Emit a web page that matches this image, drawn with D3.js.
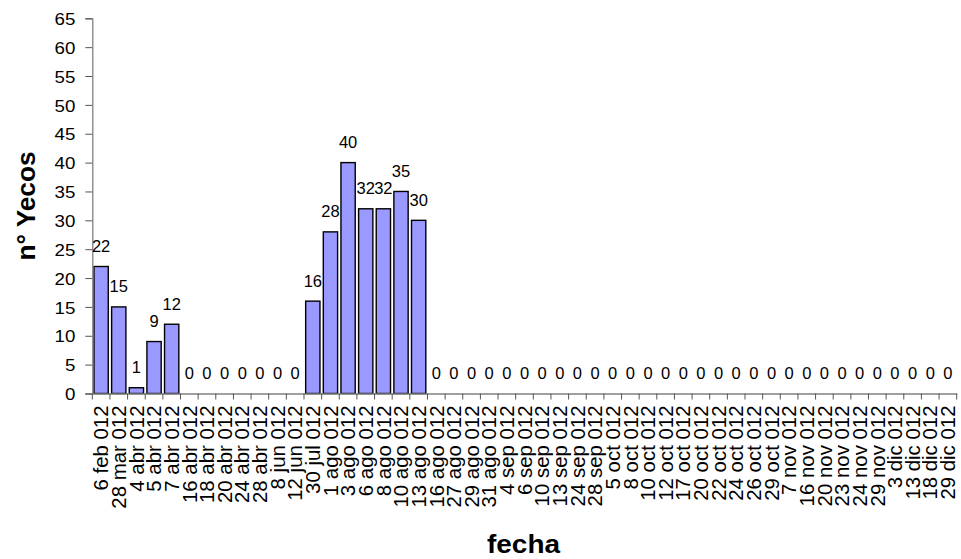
<!DOCTYPE html>
<html><head><meta charset="utf-8">
<script src="https://cdn.jsdelivr.net/npm/d3@7"></script>
<style>body{margin:0;background:#fff}svg{display:block}text{font-family:"Liberation Sans",Arial,sans-serif;fill:#000}</style>
</head><body>
<script>
const categories = ["6 feb 012","28 mar 012","4 abr 012","5 abr 012","7 abr 012","16 abr 012","18 abr 012","20 abr 012","24 abr 012","28 abr 012","8 jun 012","12 jun 012","30 jul 012","1 ago 012","3 ago 012","6 ago 012","8 ago 012","10 ago 012","13 ago 012","16 ago 012","27 ago 012","29 ago 012","31 ago 012","4 sep 012","6 sep 012","10 sep 012","13 sep 012","24 sep 012","28 sep 012","5 oct 012","8 oct 012","10 oct 012","12 oct 012","17 oct 012","20 oct 012","22 oct 012","24 oct 012","26 oct 012","29 oct 012","7 nov 012","16 nov 012","20 nov 012","23 nov 012","24 nov 012","29 nov 012","3 dic 012","13 dic 012","18 dic 012","29 dic 012"];
const values = [22,15,1,9,12,0,0,0,0,0,0,0,16,28,40,32,32,35,30,0,0,0,0,0,0,0,0,0,0,0,0,0,0,0,0,0,0,0,0,0,0,0,0,0,0,0,0,0,0];
const yTicks = [0,5,10,15,20,25,30,35,40,45,50,55,60,65];
const yTitle = "n° Yecos";
const xTitle = "fecha";

const W = 961, H = 559;
const mLeft = 92.3, mRight = 956.7, mTop = 18.3, mBottom = 393.5;
const svg = d3.select("body").append("svg").attr("width", W).attr("height", H);

const x = d3.scaleBand().domain(categories).range([mLeft, mRight]).padding(0);
const y = d3.scaleLinear().domain([0, 65]).range([mBottom, mTop]);
const bw = x.bandwidth() * 0.81;

// bars
svg.append("g").selectAll("rect").data(values.map((v,i)=>({v, c: categories[i]})))
  .join("rect")
  .attr("x", d => x(d.c) + (x.bandwidth() - bw) / 2)
  .attr("y", d => y(d.v))
  .attr("width", bw)
  .attr("height", d => y(0) - y(d.v))
  .attr("fill", "#9999FF")
  .attr("stroke", "#000")
  .attr("stroke-width", 1.4);

// y axis
const gy = svg.append("g").attr("transform", `translate(${mLeft},0)`)
  .call(d3.axisLeft(y).tickValues(yTicks).tickSize(7).tickPadding(0).tickFormat(d3.format("d")));
gy.select(".domain").attr("stroke", "#808080").attr("stroke-width", 1.3);
gy.selectAll(".tick line").attr("stroke", "#555");
gy.selectAll(".tick text").remove();
gy.selectAll(".tick").append("text")
  .attr("text-anchor", "end")
  .attr("dy", "0.36em")
  .attr("transform", "translate(-17,0) scale(1.1,1)")
  .style("font-size", "17px")
  .text(d => d);

// x axis
const gx = svg.append("g").attr("transform", `translate(0,${mBottom})`)
  .call(d3.axisBottom(x).tickSize(0).tickFormat(""));
gx.select(".domain").attr("stroke", "#808080").attr("stroke-width", 1.3);
gx.selectAll(".tick").remove();
const edges = categories.map(c => x(c)).concat([mRight]);
gx.selectAll("line.tk").data(edges).join("line").attr("class","tk")
  .attr("x1", d => d).attr("x2", d => d).attr("y1", 0).attr("y2", 6)
  .attr("stroke", "#555").attr("stroke-width", 1);
gx.selectAll("text.tl").data(categories).join("text").attr("class","tl")
  .attr("text-anchor", "end")
  .attr("dy", "0.36em")
  .attr("transform", d => `translate(${x(d) + x.bandwidth()/2},${12}) rotate(-90) scale(1.02,1)`)
  .style("font-size", "20px")
  .text(d => d);

// value labels
svg.append("g").selectAll("text").data(values.map((v,i)=>({v, c: categories[i]})))
  .join("text")
  .attr("text-anchor", "middle")
  .attr("x", d => x(d.c) + x.bandwidth()/2)
  .attr("y", d => y(d.v) - 14.5)
  .style("font-size", "16.5px")
  .text(d => d.v);

// titles
svg.append("text")
  .attr("transform", "translate(35,206) rotate(-90)")
  .attr("text-anchor", "middle")
  .attr("textLength", 109).attr("lengthAdjust", "spacingAndGlyphs")
  .style("font-size", "25px").style("font-weight", "bold")
  .text(yTitle);
svg.append("text")
  .attr("x", 487).attr("y", 553)
  .attr("textLength", 73).attr("lengthAdjust", "spacingAndGlyphs")
  .style("font-size", "25px").style("font-weight", "bold")
  .text(xTitle);
</script>
</body></html>
